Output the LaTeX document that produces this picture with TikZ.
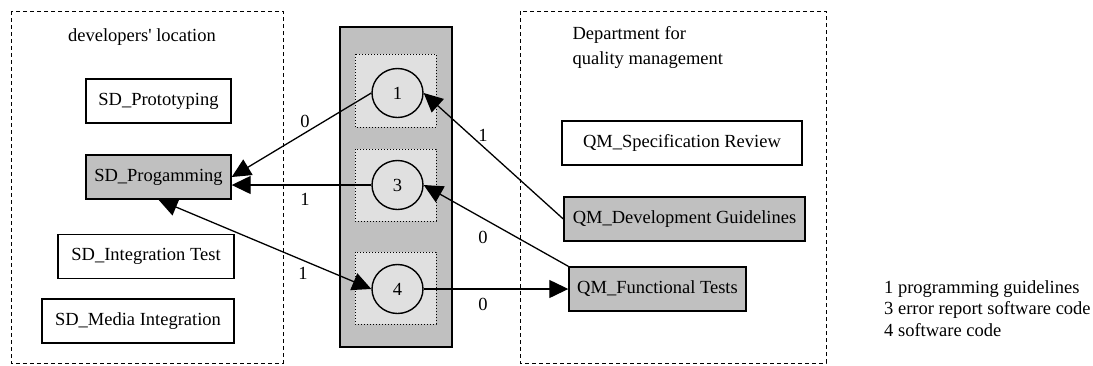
\documentclass[tikz,border=0pt]{standalone}
\usepackage{fontspec}
\setmainfont{Liberation Serif}[Ligatures=TeXOff]
\usetikzlibrary{shapes.geometric,arrows.meta}
\definecolor{midgray}{gray}{0.753}
\definecolor{lightgray}{gray}{0.878}
\begin{document}
\begin{tikzpicture}[x=1pt,y=-1pt,
  every node/.style={font=\fontsize{18.5}{22}\selectfont},
  area/.style={draw, line width=0.9pt, dash pattern=on 4pt off 3pt},
  task/.style={draw, line width=1.4pt, rectangle, inner sep=0pt, minimum height=44pt},
  active/.style={task, fill=midgray},
  slot/.style={draw, line width=1pt, dotted, fill=lightgray},
  doc/.style={draw, line width=1.4pt, ellipse, fill=lightgray, inner sep=0pt, minimum width=51pt, minimum height=49pt},
  flow/.style={line width=1.3pt, -{Triangle[length=19pt,width=18pt]}},
  both/.style={line width=1.3pt, {Triangle[length=19pt,width=18pt]}-{Triangle[length=19pt,width=18pt]}},
  num/.style={inner sep=0pt}]
\useasboundingbox (0,0) rectangle (1093,365);

% dashed location frames
\draw[area] (11,11) rectangle (283,363);
\draw[area] (520,11) rectangle (826,363);

% exchange column with its three document slots
\draw[line width=1.4pt, fill=midgray] (340,27) rectangle (452,347);
\draw[slot] (355,54) rectangle (436,127);
\draw[slot] (355,149) rectangle (436,221);
\draw[slot] (355,252) rectangle (436,324);

% titles
\node (devtitle) at (142,37) {developers' location};
\node (qmtitle) [anchor=west, align=left, font=\fontsize{18.5}{25}\selectfont] at (569,47.5) {Department for\\quality management};

% developer tasks
\node[task, minimum width=145pt] (proto) at (158.5,101) {SD\_Prototyping};
\node[active, minimum width=145pt] (prog) at (158.5,177) {SD\_Progamming};
\node[task, minimum width=176pt] (integ) at (146,256.5) {SD\_Integration Test};
\node[task, minimum width=192pt] (media) at (138,321) {SD\_Media Integration};

% quality management tasks
\node[task, minimum width=240pt] (qmspec) at (682,143) {QM\_Specification Review};
\node[active, minimum width=241pt] (qmdev) at (684.5,219) {QM\_Development Guidelines};
\node[active, minimum width=177pt] (qmfun) at (657.5,289) {QM\_Functional Tests};

% documents
\node[doc] (e1) at (397.5,93) {1};
\node[doc] (e3) at (397.5,185) {3};
\node[doc] (e4) at (397.5,289) {4};

% document flows
\draw[flow] (e1.west) -- (prog.east);
\draw[flow] (e3.west) -- (e3.west -| prog.east);
\draw[both] (prog.south) -- (e4.west);
\draw[flow] (qmdev.west) -- (e1.east);
\draw[flow] (qmfun.north west) -- (e3.east);
\draw[flow] (e4.east) -- (qmfun.west);

% flow labels
\node[num] (l1) at (305,121) {0};
\node[num] (l2) at (305,199) {1};
\node[num] (l3) at (303,273) {1};
\node[num] (l4) at (483,135) {1};
\node[num] (l5) at (483,237) {0};
\node[num] (l6) at (483,304) {0};

% legend
\node (legend) [anchor=west, align=left, inner sep=0pt, font=\fontsize{18.5}{21.5}\selectfont] at (884,308.5)
  {1 programming guidelines\\3 error report software code\\4 software code};
\end{tikzpicture}
\end{document}
